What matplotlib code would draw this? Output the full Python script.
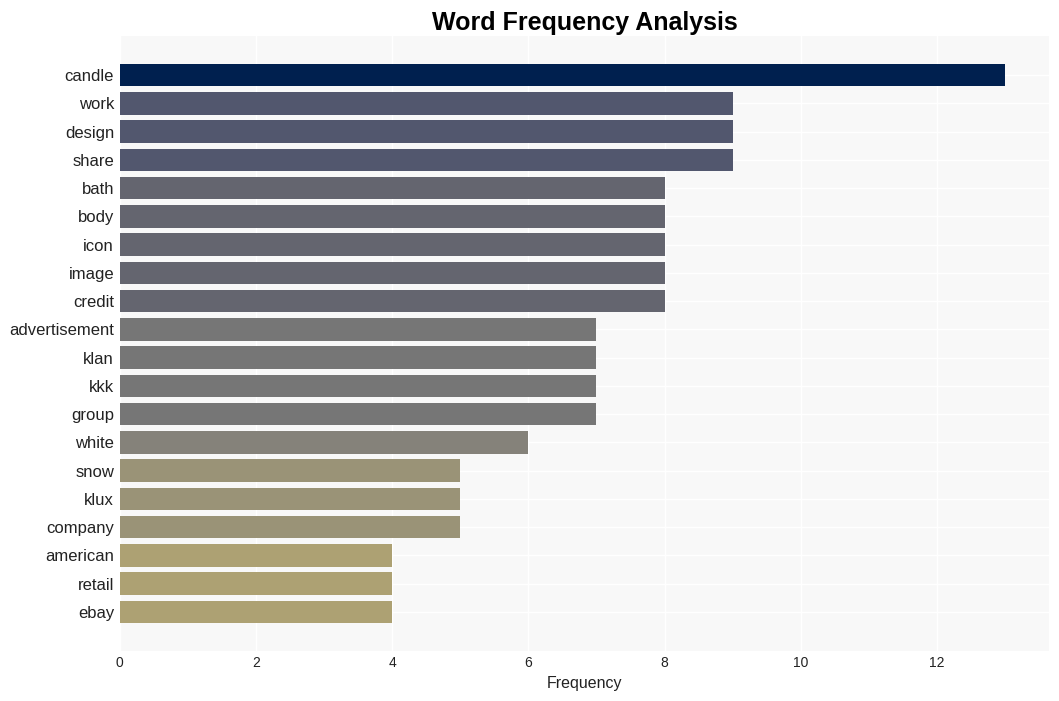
import matplotlib.pyplot as plt

words = ["candle", "work", "design", "share", "bath", "body", "icon", "image",
         "credit", "advertisement", "klan", "kkk", "group", "white", "snow",
         "klux", "company", "american", "retail", "ebay"]
counts = [13, 9, 9, 9, 8, 8, 8, 8, 8, 7, 7, 7, 7, 6, 5, 5, 5, 4, 4, 4]

# colour per frequency level
level_colors = {13: "#00204f", 9: "#52576e", 8: "#64656f", 7: "#767676",
                6: "#85827a", 5: "#9a9377", 4: "#ada173"}

plt.rcParams['font.family'] = ['Liberation Sans', 'DejaVu Sans']

fig, ax = plt.subplots(figsize=(10.59, 7.01), dpi=100)
fig.subplots_adjust(left=0.113, right=0.991, top=0.949, bottom=0.071)

ax.set_facecolor("#f8f8f8")
ax.barh(range(len(words)), counts, height=0.8,
        color=[level_colors[c] for c in counts], zorder=2)
ax.set_yticks(range(len(words)))
ax.set_yticklabels(words, fontsize=12, color="#222222")
ax.invert_yaxis()
ax.set_xticks([0, 2, 4, 6, 8, 10, 12])
ax.tick_params(axis='x', labelsize=10, colors="#222222", length=0)
ax.tick_params(axis='y', length=0, pad=4)
ax.grid(True, color="white", linewidth=1, zorder=0)
ax.set_axisbelow(True)
for s in ax.spines.values():
    s.set_visible(False)

ax.set_xlabel("Frequency", fontsize=11.5, color="#222222")
ax.set_title("Word Frequency Analysis", fontsize=18, fontweight="bold", pad=4)

fig.savefig("out.png", dpi=100)
